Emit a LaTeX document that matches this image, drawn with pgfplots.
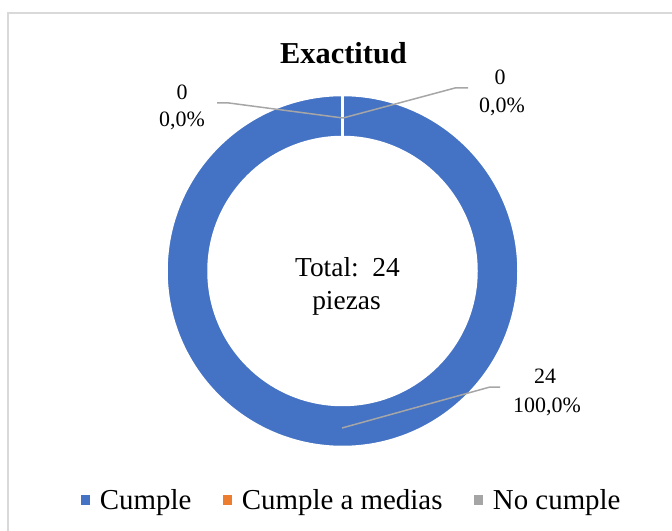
\documentclass[border=0pt]{standalone}
\usepackage{pgfplots}
\pgfplotsset{compat=1.18}
\usepackage{pgfplotstable}
\usepackage{fontspec}
\setmainfont{Liberation Serif}

\definecolor{cumple}{HTML}{4472C4}
\definecolor{medias}{HTML}{ED7D31}
\definecolor{nocumple}{HTML}{A5A5A5}
\definecolor{guia}{HTML}{A6A6A6}
\definecolor{marco}{HTML}{D9D9D9}

% piezas por categoria
\pgfplotstableread{
categoria valor
Cumple    24
Medias    0
NoCumple  0
}\datos

\pgfplotstablegetelem{0}{valor}\of\datos \let\va\pgfplotsretval
\pgfplotstablegetelem{1}{valor}\of\datos \let\vb\pgfplotsretval
\pgfplotstablegetelem{2}{valor}\of\datos \let\vc\pgfplotsretval
\pgfmathsetmacro\total{\va+\vb+\vc}
\pgfmathsetmacro\angA{90-360*\va/\total}
\pgfmathsetmacro\angB{\angA-360*\vb/\total}
\pgfmathsetmacro\angC{\angB-360*\vc/\total}

% sector del anillo: color, angulo inicial, angulo final
\newcommand{\sector}[3]{%
  \filldraw[fill=#1, draw=white, line width=2.5bp]
    (axis cs:{176*cos(#2)},{176*sin(#2)})
    arc[start angle=#2, end angle=#3, radius=176bp]
    -- (axis cs:{134*cos(#3)},{134*sin(#3)})
    arc[start angle=#3, end angle=#2, radius=134bp] -- cycle;}

\begin{document}
\begin{tikzpicture}
\useasboundingbox (0,0) rectangle (672bp,531bp);
\draw[marco, line width=1.5bp] (8bp,0) -- (8bp,518bp) -- (672bp,518bp);
\begin{axis}[
    at={(342.5bp,260bp)}, anchor=center,
    scale only axis, width=352bp, height=352bp,
    xmin=-176, xmax=176, ymin=-176, ymax=176,
    hide axis, clip=false,
    legend columns=-1,
    legend style={at={(0.527,-0.1506)}, anchor=center, draw=none, fill=none,
        font=\fontsize{29}{34}\selectfont,
        /tikz/every odd column/.append style={column sep=8bp},
        /tikz/every even column/.append style={column sep=30bp}},
    legend image code/.code={\fill[#1, draw=none] (0bp,-4.5bp) rectangle (8.5bp,5bp);},
]
\addlegendimage{fill=cumple}
\addlegendentry{Cumple}
\addlegendimage{fill=medias}
\addlegendentry{Cumple a medias}
\addlegendimage{fill=nocumple}
\addlegendentry{No cumple}

\sector{cumple}{90}{\angA}
\sector{medias}{\angA}{\angB}
\sector{nocumple}{\angB}{\angC}

% lineas guia
\draw[guia, line width=1.5bp] (axis cs:-125.5,168) -- (axis cs:-113.5,168) -- (axis cs:0.5,153);
\draw[guia, line width=1.5bp] (axis cs:0.5,153) -- (axis cs:112.5,183) -- (axis cs:125.5,183);
\draw[guia, line width=1.5bp] (axis cs:-0.5,-157) -- (axis cs:147.5,-116) -- (axis cs:157.5,-116);

% etiquetas
\node[anchor=base, font=\fontsize{22}{26}\selectfont] at (axis cs:-160.5,171) {0};
\node[anchor=base, font=\fontsize{22}{26}\selectfont] at (axis cs:-160.5,144) {0,0\%};
\node[anchor=base, font=\fontsize{22}{26}\selectfont] at (axis cs:157.5,186) {0};
\node[anchor=base, font=\fontsize{22}{26}\selectfont] at (axis cs:159.5,158) {0,0\%};
\node[anchor=base, font=\fontsize{22}{26}\selectfont] at (axis cs:202.5,-112) {24};
\node[anchor=base, font=\fontsize{22}{26}\selectfont] at (axis cs:204.5,-141) {100,0\%};

\node[anchor=base, font=\fontsize{27.5}{32}\selectfont] at (axis cs:5,-6) {Total:\ \ 24};
\node[anchor=base, font=\fontsize{27.5}{32}\selectfont] at (axis cs:4,-39) {piezas};

\node[anchor=base, font=\bfseries\fontsize{30.5}{36}\selectfont] at (axis cs:1,207) {Exactitud};
\end{axis}
\end{tikzpicture}
\end{document}
